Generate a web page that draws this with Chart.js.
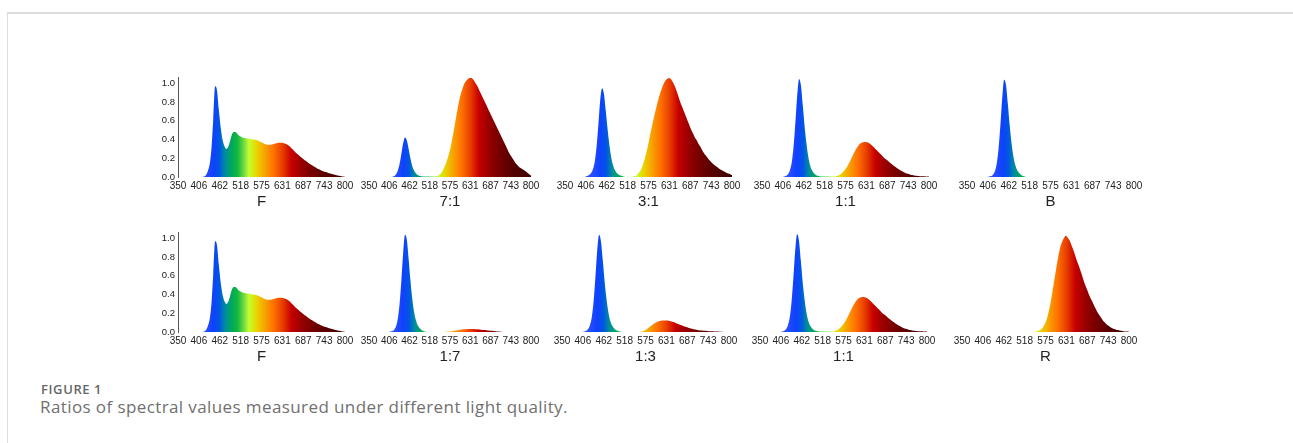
<!DOCTYPE html>
<html>
<head>
<meta charset="utf-8">
<script src="https://cdn.jsdelivr.net/npm/chart.js@4.4.1/dist/chart.umd.min.js"></script>
<style>
  body { margin: 0; background: #fff; width: 1293px; height: 443px; overflow: hidden; position: relative; font-family: 'Open Sans', sans-serif; }
  .frame { position: absolute; left: 7px; top: 12px; right: 0; bottom: -4px; border-top: 2px solid #dcdcdc; border-left: 1px solid #dcdcdc; }
  canvas { position: absolute; }
  .fig-no { position: absolute; left: 41px; top: 380px; font-size: 13px; font-weight: 600; letter-spacing: 0.6px; color: #666; }
  .fig-cap { position: absolute; left: 40px; top: 395px; font-size: 17px; letter-spacing: 0.4px; color: #707070; }
</style>
</head>
<body>
<div class="frame"></div>
<div id="panels"></div>
<div class="fig-no">FIGURE 1</div>
<div class="fig-cap">Ratios of spectral values measured under different light quality.</div>

<script>
// wavelength grid (nm), 5 nm steps
const wavelengths = [
  350, 355, 360, 365, 370, 375, 380, 385, 390, 395,
  400, 405, 410, 415, 420, 425, 430, 435, 440, 445,
  450, 455, 460, 465, 470, 475, 480, 485, 490, 495,
  500, 505, 510, 515, 520, 525, 530, 535, 540, 545,
  550, 555, 560, 565, 570, 575, 580, 585, 590, 595,
  600, 605, 610, 615, 620, 625, 630, 635, 640, 645,
  650, 655, 660, 665, 670, 675, 680, 685, 690, 695,
  700, 705, 710, 715, 720, 725, 730, 735, 740, 745,
  750, 755, 760, 765, 770, 775, 780, 785, 790, 795,
  800
];

// relative spectral values, one row per 50 nm
const spectrumF = [
  0, 0, 0, 0, 0, 0, 0, 0, 0, 0,
  0, 0, 0, 0, 0.005, 0.02, 0.06, 0.13, 0.3, 0.62,
  0.97, 0.93, 0.72, 0.53, 0.4, 0.33, 0.3, 0.32, 0.38, 0.45,
  0.48, 0.48, 0.46, 0.44, 0.43, 0.42, 0.415, 0.41, 0.41, 0.405,
  0.4, 0.4, 0.395, 0.39, 0.38, 0.37, 0.36, 0.35, 0.345, 0.345,
  0.345, 0.35, 0.355, 0.36, 0.365, 0.365, 0.365, 0.36, 0.355, 0.345,
  0.33, 0.31, 0.29, 0.27, 0.25, 0.235, 0.215, 0.2, 0.185, 0.17,
  0.155, 0.14, 0.128, 0.115, 0.103, 0.092, 0.082, 0.073, 0.065, 0.057,
  0.05, 0.044, 0.038, 0.032, 0.027, 0.022, 0.017, 0.013, 0.009, 0.005,
  0.002
];

const spectrum71 = [
  0, 0, 0, 0, 0, 0, 0, 0, 0, 0,
  0, 0, 0, 0.003, 0.01, 0.03, 0.07, 0.14, 0.25, 0.36,
  0.42, 0.39, 0.3, 0.2, 0.12, 0.07, 0.04, 0.02, 0.012, 0.008,
  0.005, 0.004, 0.004, 0.004, 0.004, 0.004, 0.004, 0.004, 0.01, 0.02,
  0.04, 0.07, 0.11, 0.16, 0.22, 0.29, 0.38, 0.48, 0.59, 0.7,
  0.8, 0.88, 0.94, 0.99, 1.02, 1.04, 1.05, 1.05, 1.03, 1.0,
  0.97, 0.93, 0.89, 0.85, 0.81, 0.77, 0.73, 0.69, 0.65, 0.61,
  0.57, 0.53, 0.49, 0.45, 0.41, 0.37, 0.33, 0.29, 0.25, 0.22,
  0.19, 0.16, 0.135, 0.115, 0.097, 0.085, 0.075, 0.06, 0.045, 0.03,
  0.015
];

const spectrum31 = [
  0, 0, 0, 0, 0, 0, 0, 0, 0, 0,
  0, 0.003, 0.01, 0.02, 0.04, 0.08, 0.16, 0.32, 0.56, 0.82,
  0.94, 0.88, 0.7, 0.5, 0.33, 0.2, 0.12, 0.07, 0.04, 0.025,
  0.015, 0.008, 0.003, 0, 0, 0, 0, 0.005, 0.01, 0.025,
  0.05, 0.08, 0.13, 0.2, 0.27, 0.36, 0.46, 0.55, 0.64, 0.72,
  0.8, 0.87, 0.93, 0.98, 1.02, 1.04, 1.05, 1.04, 1.01, 0.97,
  0.92, 0.86, 0.8, 0.75, 0.7, 0.65, 0.6, 0.55, 0.5, 0.46,
  0.42, 0.39, 0.35, 0.32, 0.28, 0.25, 0.225, 0.2, 0.175, 0.155,
  0.135, 0.12, 0.105, 0.09, 0.077, 0.065, 0.055, 0.045, 0.037, 0.03,
  0.02
];

const spectrum11 = [
  0, 0, 0, 0, 0, 0, 0, 0, 0, 0,
  0, 0, 0.005, 0.012, 0.03, 0.07, 0.15, 0.32, 0.58, 0.87,
  1.04, 0.97, 0.76, 0.53, 0.35, 0.21, 0.12, 0.07, 0.04, 0.022,
  0.012, 0.007, 0.004, 0.004, 0.004, 0.004, 0.004, 0.004, 0.004, 0.004,
  0.008, 0.015, 0.025, 0.04, 0.06, 0.085, 0.115, 0.15, 0.19, 0.23,
  0.27, 0.305, 0.335, 0.355, 0.365, 0.37, 0.37, 0.365, 0.355, 0.34,
  0.32, 0.3, 0.28, 0.26, 0.24, 0.22, 0.2, 0.185, 0.17, 0.15,
  0.135, 0.12, 0.105, 0.09, 0.078, 0.066, 0.055, 0.046, 0.038, 0.031,
  0.025, 0.02, 0.016, 0.013, 0.011, 0.009, 0.008, 0.007, 0.006, 0.005,
  0.004
];

const spectrumB = [
  0, 0, 0, 0, 0, 0, 0, 0, 0, 0,
  0, 0, 0.005, 0.01, 0.025, 0.06, 0.14, 0.3, 0.55, 0.84,
  1.03, 0.98, 0.78, 0.55, 0.36, 0.22, 0.13, 0.075, 0.045, 0.025,
  0.012, 0.005, 0, 0, 0, 0, 0, 0, 0, 0,
  0, 0, 0, 0, 0, 0, 0, 0, 0, 0,
  0, 0, 0, 0, 0, 0, 0, 0, 0, 0,
  0, 0, 0, 0, 0, 0, 0, 0, 0, 0,
  0, 0, 0, 0, 0, 0, 0, 0, 0, 0,
  0, 0, 0, 0, 0, 0, 0, 0, 0, 0,
  0
];

const spectrum17 = [
  0, 0, 0, 0, 0, 0, 0, 0, 0, 0,
  0, 0, 0.005, 0.01, 0.025, 0.06, 0.14, 0.3, 0.55, 0.84,
  1.03, 0.98, 0.78, 0.55, 0.36, 0.22, 0.13, 0.075, 0.045, 0.025,
  0.012, 0.005, 0, 0, 0, 0, 0, 0, 0, 0,
  0, 0, 0, 0.002, 0.004, 0.006, 0.009, 0.012, 0.015, 0.018,
  0.021, 0.024, 0.026, 0.028, 0.03, 0.031, 0.032, 0.032, 0.031, 0.03,
  0.028, 0.026, 0.024, 0.022, 0.02, 0.018, 0.016, 0.014, 0.012, 0.01,
  0.008, 0.006, 0.004, 0.002, 0, 0, 0, 0, 0, 0,
  0, 0, 0, 0, 0, 0, 0, 0, 0, 0,
  0
];

const spectrum13 = [
  0, 0, 0, 0, 0, 0, 0, 0, 0, 0,
  0, 0, 0.005, 0.012, 0.03, 0.07, 0.15, 0.32, 0.58, 0.87,
  1.03, 0.96, 0.76, 0.53, 0.35, 0.21, 0.12, 0.07, 0.04, 0.022,
  0.012, 0.006, 0.003, 0, 0, 0, 0, 0, 0, 0,
  0, 0, 0.002, 0.005, 0.01, 0.02, 0.035, 0.05, 0.065, 0.08,
  0.093, 0.104, 0.112, 0.118, 0.122, 0.123, 0.123, 0.121, 0.117, 0.112,
  0.105, 0.097, 0.089, 0.081, 0.073, 0.066, 0.059, 0.052, 0.046, 0.04,
  0.035, 0.03, 0.026, 0.022, 0.019, 0.016, 0.014, 0.012, 0.01, 0.009,
  0.008, 0.007, 0.006, 0.005, 0.004, 0.003, 0.002, 0.001, 0, 0,
  0
];

const spectrumR = [
  0, 0, 0, 0, 0, 0, 0, 0, 0, 0,
  0, 0, 0, 0, 0, 0, 0, 0, 0, 0,
  0, 0, 0, 0, 0, 0, 0, 0, 0, 0,
  0, 0, 0, 0, 0, 0, 0, 0, 0, 0,
  0.005, 0.01, 0.02, 0.035, 0.06, 0.1, 0.16, 0.24, 0.34, 0.46,
  0.58, 0.7, 0.81, 0.9, 0.96, 1.0, 1.02, 1.0, 0.97, 0.92,
  0.87, 0.81, 0.75, 0.7, 0.64, 0.58, 0.52, 0.47, 0.42, 0.37,
  0.33, 0.29, 0.25, 0.21, 0.18, 0.15, 0.12, 0.1, 0.08, 0.065,
  0.05, 0.04, 0.032, 0.025, 0.02, 0.015, 0.012, 0.009, 0.006, 0.004,
  0.002
];

const panelLabels = ['F', '7:1', '3:1', '1:1', 'B', 'F', '1:7', '1:3', '1:1', 'R'];
const panelSeries = [spectrumF, spectrum71, spectrum31, spectrum11, spectrumB,
                     spectrumF, spectrum17, spectrum13, spectrum11, spectrumR];

const xTickValues = [350, 406.25, 462.5, 518.75, 575, 631.25, 687.5, 743.75, 800];
const xTickLabels = ['350', '406', '462', '518', '575', '631', '687', '743', '800'];
const yTickValues = [0, 0.2, 0.4, 0.6, 0.8, 1.0];
const yTickLabels = ['0.0', '0.2', '0.4', '0.6', '0.8', '1.0'];

// page layout of the ten small plots (pixels)
const panelLayout = [
  { top: 69,  plotLeft: 178, plotWidth: 167, yAxis: true },
  { top: 69,  plotLeft: 369, plotWidth: 162 },
  { top: 69,  plotLeft: 565, plotWidth: 167 },
  { top: 69,  plotLeft: 762, plotWidth: 167 },
  { top: 69,  plotLeft: 967, plotWidth: 167 },
  { top: 224, plotLeft: 178, plotWidth: 167, yAxis: true },
  { top: 224, plotLeft: 369, plotWidth: 162 },
  { top: 224, plotLeft: 562, plotWidth: 167 },
  { top: 224, plotLeft: 760, plotWidth: 167 },
  { top: 224, plotLeft: 962, plotWidth: 167 },
];

// wavelength -> colour used for the fill
const spectrumStops = [
  [350, '#3a4dff'], [420, '#2a50ff'], [445, '#1040ff'], [462, '#0058e0'],
  [478, '#00909a'], [495, '#00a85a'], [510, '#10b840'], [527, '#70d840'],
  [541, '#c0ff30'], [560, '#e8d800'], [585, '#f8a000'], [608, '#ff7000'],
  [631, '#e84000'], [655, '#c80000'], [683, '#980000'], [718, '#700000'],
  [754, '#520000'], [800, '#420000'],
];

const PAD_X = 14, PAD_TOP = 8, PAD_BOTTOM = 2;
const Y_AXIS_W = 26, X_AXIS_H = 34, PLOT_H = 100;
const Y_MAX = 1.06;

function spectrumFill(ctx) {
  const chart = ctx.chart;
  if (!chart.chartArea) return '#888';
  const x = chart.scales.x;
  const x0 = x.getPixelForValue(350), x1 = x.getPixelForValue(800);
  const g = chart.ctx.createLinearGradient(x0, 0, x1, 0);
  spectrumStops.forEach(([nm, c]) => g.addColorStop((nm - 350) / 450, c));
  return g;
}

function initSpectraPanels() {
  Chart.defaults.font.family = "'Liberation Sans', Arial, sans-serif";
  Chart.defaults.color = '#222';

  const holder = document.getElementById('panels');

  panelLayout.forEach((lay, i) => {
    const yW = lay.yAxis ? Y_AXIS_W : 0;
    const canvas = document.createElement('canvas');
    canvas.width = PAD_X + yW + lay.plotWidth + PAD_X;
    canvas.height = PAD_TOP + PLOT_H + X_AXIS_H + PAD_BOTTOM;
    canvas.style.left = (lay.plotLeft - PAD_X - yW) + 'px';
    canvas.style.top = lay.top + 'px';
    holder.appendChild(canvas);

    const values = panelSeries[i];

    new Chart(canvas, {
      type: 'line',
      data: {
        datasets: [{
          data: wavelengths.map((nm, k) => ({ x: nm, y: values[k] })),
          borderWidth: 0,
          pointRadius: 0,
          fill: 'origin',
          backgroundColor: spectrumFill,
          cubicInterpolationMode: 'monotone',
        }],
      },
      options: {
        responsive: false,
        animation: false,
        devicePixelRatio: 1,
        layout: { padding: { left: PAD_X, right: PAD_X, top: PAD_TOP, bottom: PAD_BOTTOM } },
        plugins: { legend: { display: false }, tooltip: { enabled: false } },
        scales: {
          x: {
            type: 'linear',
            min: 350,
            max: 800,
            grid: { display: false, drawTicks: false },
            border: { display: false },
            afterBuildTicks: (s) => { s.ticks = xTickValues.map((v) => ({ value: v })); },
            afterFit: (s) => { s.height = X_AXIS_H; },
            ticks: {
              autoSkip: false,
              maxRotation: 0,
              padding: 3,
              font: { size: 10 },
              callback: (v, idx) => xTickLabels[idx],
            },
            title: {
              display: true,
              text: panelLabels[i],
              font: { size: 15 },
              color: '#222',
              padding: 0,
            },
          },
          y: {
            display: !!lay.yAxis,
            min: 0,
            max: Y_MAX,
            grid: { display: false, drawTicks: false },
            border: { display: true, color: '#555', width: 1 },
            afterBuildTicks: (s) => { s.ticks = yTickValues.map((v) => ({ value: v })); },
            afterFit: (s) => { if (lay.yAxis) s.width = Y_AXIS_W; },
            ticks: {
              padding: 3,
              font: { size: 9.5 },
              callback: (v, idx) => yTickLabels[idx],
            },
          },
        },
      },
    });
  });
}

window.addEventListener('load', initSpectraPanels);
</script>
</body>
</html>
